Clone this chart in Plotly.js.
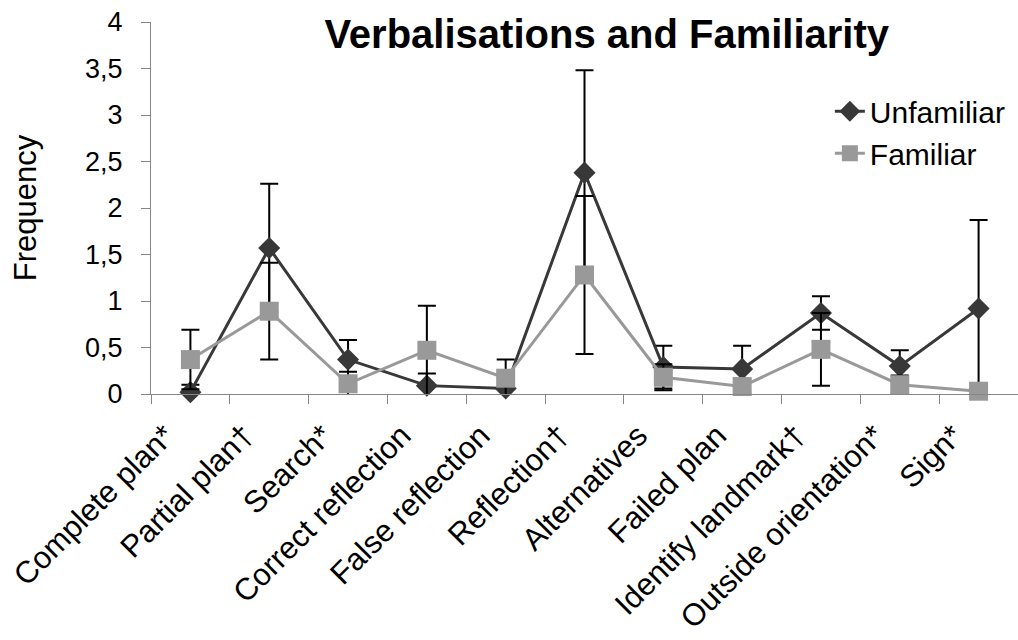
<!DOCTYPE html>
<html>
<head>
<meta charset="utf-8">
<script src="https://cdn.plot.ly/plotly-3.0.1.min.js"></script>
<style>html,body{margin:0;padding:0;background:#fff}#chart{width:1018px;height:640px}</style>
</head>
<body>
<div id="chart"></div>
<script>
const categories = ['Complete plan*','Partial plan\u2020','Search*','Correct reflection','False reflection','Reflection\u2020','Alternatives','Failed plan','Identify landmark\u2020','Outside orientation*','Sign*'];
const unfamiliar = [0.02,1.57,0.37,0.09,0.06,2.38,0.29,0.27,0.87,0.30,0.92];
const unfamiliarErr = [0.08,0.69,0.21,0.13,0.15,1.10,0.23,0.25,0.18,0.17,0.95];
const familiar = [0.37,0.89,0.11,0.47,0.17,1.28,0.18,0.08,0.48,0.10,0.03];
const familiarErr = [0.32,0.52,0.13,0.48,0.20,0.85,0.14,0.08,0.39,0.10,0.03];
const yTicks = [0,0.5,1,1.5,2,2.5,3,3.5,4];

const font = 'Liberation Sans, Arial, sans-serif';
const traces = [
  {
    name: 'Unfamiliar', type: 'scatter', mode: 'lines+markers',
    x: categories, y: unfamiliar,
    line: {color: '#383838', width: 3},
    marker: {symbol: 'diamond', size: 17, color: '#383838'},
    error_y: {type: 'data', array: unfamiliarErr, visible: true, color: '#000', thickness: 2, width: 9},
    cliponaxis: false
  },
  {
    name: 'Familiar', type: 'scatter', mode: 'lines+markers',
    x: categories, y: familiar,
    line: {color: '#999999', width: 3},
    marker: {symbol: 'square', size: 19, color: '#999999'},
    error_y: {type: 'data', array: familiarErr, visible: true, color: '#000', thickness: 2, width: 9},
    cliponaxis: false
  }
];
const layout = {
  width: 1018, height: 640,
  margin: {l: 151, r: 0, t: 22, b: 246},
  paper_bgcolor: '#fff', plot_bgcolor: '#fff',
  separators: ', ',
  font: {family: font, color: '#000'},
  title: {text: '<b>Verbalisations and Familiarity</b>', font: {family: font, size: 40, color: '#000'},
          x: 0.596, xanchor: 'center', y: 0.947, yanchor: 'middle', xref: 'container', yref: 'container'},
  showlegend: true,
  legend: {x: 0.783, y: 0.83, xanchor: 'left', yanchor: 'top', font: {family: font, size: 30, color: '#000'},
           bgcolor: 'rgba(0,0,0,0)', traceorder: 'normal'},
  xaxis: {
    type: 'category', range: [-0.5, 10.5], tickangle: -45,
    showline: true, linecolor: '#868686', linewidth: 1,
    ticks: 'outside', tickson: 'boundaries', ticklen: 9, tickcolor: '#868686',
    showgrid: false, zeroline: false,
    tickfont: {family: font, size: 31, color: '#000'},
    ticklabelstandoff: 10, ticklabelshift: -25,
    automargin: false
  },
  yaxis: {
    range: [0, 4], tickvals: yTicks, tickformat: '.1~f',
    showline: true, linecolor: '#868686', linewidth: 1,
    ticks: 'outside', ticklen: 9, tickcolor: '#868686',
    showgrid: false, zeroline: false,
    tickfont: {family: font, size: 27, color: '#000'},
    ticklabelstandoff: 13,
    title: {text: 'Frequency', font: {family: font, size: 31, color: '#000'}, standoff: 39},
    automargin: false
  }
};
Plotly.newPlot('chart', traces, layout, {displayModeBar: false, staticPlot: true});
</script>
</body>
</html>
